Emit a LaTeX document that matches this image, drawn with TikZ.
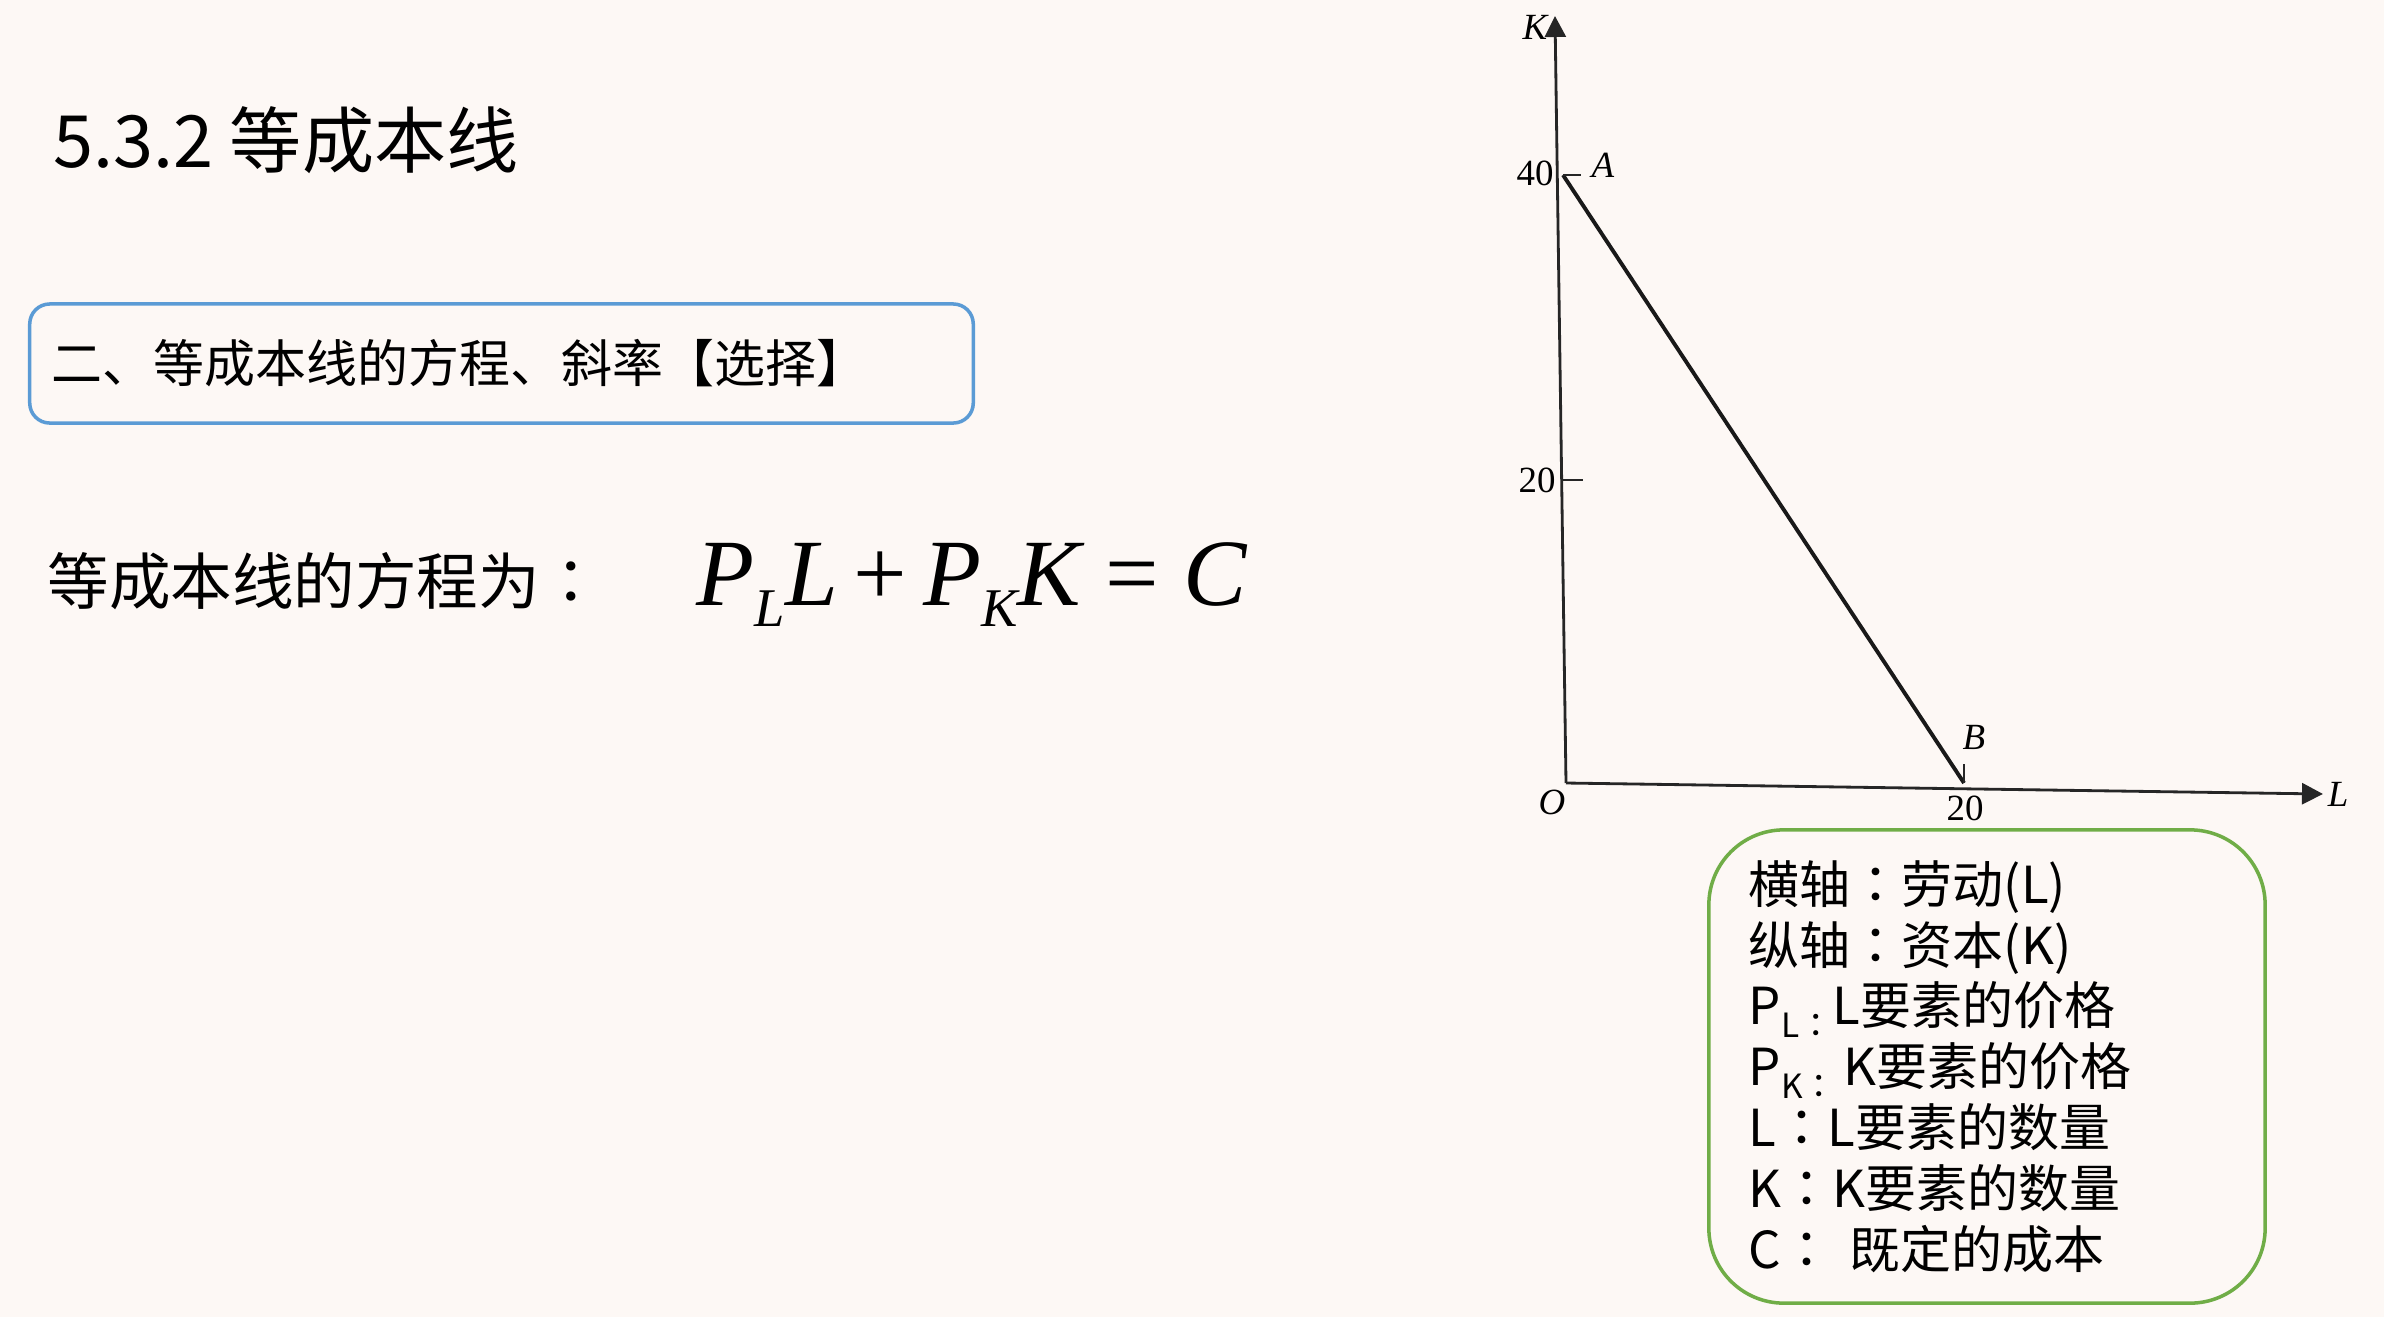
\documentclass[tikz,border=0pt]{standalone}
\usepackage{fontspec}
\setmainfont{Noto Sans CJK SC}
\newfontfamily\tcfont{Noto Sans CJK TC}
\newfontfamily\tnrfont{Liberation Serif}
\usepackage{xcolor}
\usetikzlibrary{arrows.meta,positioning}
\definecolor{slidebg}{HTML}{FDF8F5}
\definecolor{boxblue}{HTML}{5B9BD5}
\definecolor{boxgreen}{HTML}{70AD47}
\newcommand{\zhcolon}{{\tcfont ：}}
\newcommand{\eqsub}[1]{\raisebox{-0.23em}{\fontsize{15.5}{16}\selectfont #1}}
\newcommand{\lgsub}[1]{\raisebox{-0.25em}{\fontsize{9.5}{10}\selectfont #1}}
\tikzset{
  slidetitle/.style={anchor=base west, inner sep=0pt, font=\fontsize{20.5}{24}\selectfont},
  topicbox/.style={
    draw=boxblue, fill=slidebg, line width=1pt, rounded corners=2mm,
    minimum width=9.43cm, minimum height=1.19cm, inner xsep=0.22cm,
    text width=8.99cm, align=left, font=\fontsize{14.5}{17}\selectfont
  },
  eqtext/.style={anchor=base west, inner sep=0pt, font=\fontsize{17.5}{20}\selectfont},
  eqmath/.style={anchor=base west, inner sep=0pt, font=\tnrfont\fontsize{27}{30}\selectfont\itshape},
  legendbox/.style={
    draw=boxgreen, fill=slidebg, line width=1pt, rounded corners=7.5mm,
    minimum width=5.56cm, minimum height=4.73cm, inner xsep=0.40cm,
    text width=4.76cm, align=left, font=\fontsize{14.5}{17.3}\selectfont
  },
  gaxis/.style={-{Triangle[length=2.1mm,width=2.1mm]}, draw=black!85, line width=0.8pt},
  gline/.style={draw=black!90, line width=1.1pt},
  gtick/.style={draw=black!85, line width=0.8pt},
  glabel/.style={inner sep=0pt, font=\tnrfont\fontsize{10.5}{12}\selectfont},
  gvar/.style={glabel, font=\tnrfont\fontsize{10.5}{12}\selectfont\itshape}
}

\begin{document}
\begin{tikzpicture}[x=0.01cm,y=-0.01cm]
  \useasboundingbox (0,0) rectangle (2384,1317);
  \fill[slidebg] (0,0) rectangle (2384,1317);
  % left column
  \node[slidetitle] (title) at (53,167) {5.3.2 等成本线};
  \node[topicbox] (topic) at (501.5,363.5) {二、等成本线的方程、斜率【选择】};
  \node[eqtext] (eqlabel) at (47,604) {等成本线的方程为\zhcolon};
  \node[eqmath] (eq) at (696,605) {P\eqsub{L}L\,{\upshape +}\,P\eqsub{K}K\hspace{0.26em}{\upshape =}\hspace{0.26em}C};
  % isocost graph
  \coordinate (o) at (1566,783);
  \coordinate (ktop) at (1555,16);
  \coordinate (lend) at (2323,794);
  \coordinate (a) at (1563,175);
  \coordinate (k20) at (1561,480);
  \coordinate (b) at (1964,783);
  \draw[gaxis] (o) -- (ktop);
  \draw[gaxis] (o) -- (lend);
  \draw[gline] (a) -- (b);
  \draw[gtick] (a) -- ++(18,0);
  \draw[gtick] (k20) -- ++(22,0);
  \draw[gtick] (b) -- ++(0,-19);
  \node[gvar] (klabel) at (1535,27) {K};
  \node[glabel] (k40label) at (1535,173) {40};
  \node[gvar] (alabel) at (1603,165) {A};
  \node[glabel] (k20label) at (1537,480) {20};
  \node[gvar] (blabel) at (1974,737) {B};
  \node[glabel] (l20label) at (1965,808) {20};
  \node[gvar] (olabel) at (1552,802) {O};
  \node[gvar] (llabel) at (2338,794) {L};
  % legend
  \node[legendbox] (legend) at (1987,1066.5) {横轴\zhcolon 劳动(L)\\
    纵轴\zhcolon 资本(K)\\
    P\lgsub{L\zhcolon}L要素的价格\\
    P\lgsub{K\zhcolon}\hspace{0.15em}K要素的价格\\
    L\zhcolon L要素的数量\\
    K\zhcolon K要素的数量\\
    C\zhcolon\ 既定的成本};
\end{tikzpicture}
\end{document}
